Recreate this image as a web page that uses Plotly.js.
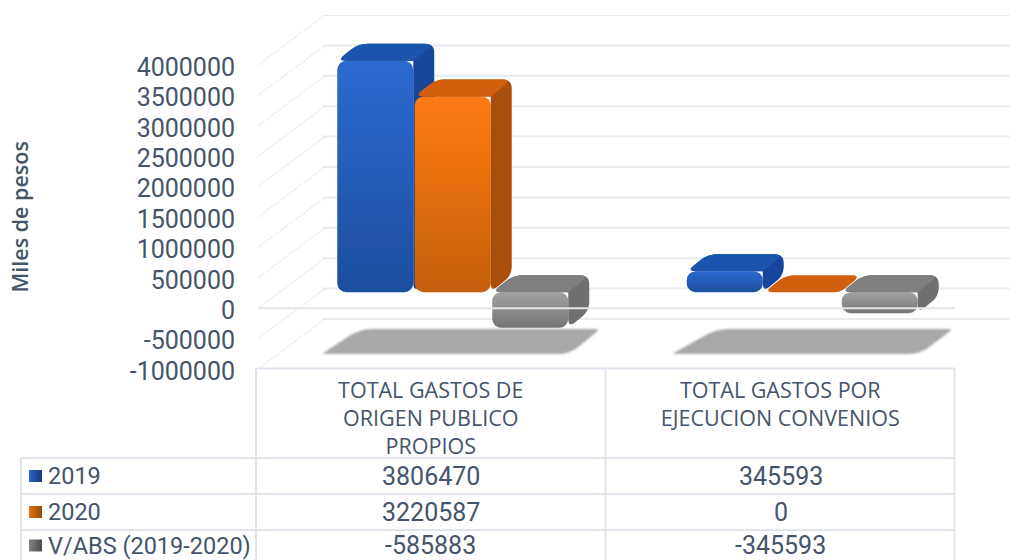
<!DOCTYPE html>
<html><head><meta charset="utf-8">
<script src="https://cdn.plot.ly/plotly-3.0.1.min.js"></script>
<style>html,body{margin:0;padding:0;background:#fff;overflow:hidden}</style>
</head><body><div id="chart" style="width:1010px;height:560px"></div>
<script>
const categories = ['TOTAL GASTOS DE<br>ORIGEN PUBLICO<br>PROPIOS', 'TOTAL GASTOS POR<br>EJECUCION CONVENIOS'];
const seriesNames = ['2019', '2020', 'V/ABS (2019-2020)'];
const values2019 = [3806470, 345593];
const values2020 = [3220587, 0];
const valuesVabs = [-585883, -345593];
const yTicks = [-1000000, -500000, 0, 500000, 1000000, 1500000, 2000000, 2500000, 3000000, 3500000, 4000000];
const allSeries = [values2019, values2020, valuesVabs];

const TXT = '#44546a', GRID = '#e8ebef', TBL = '#e0e5ed';
const W = 754, H = 354, L = 256, T = 15;
const UX = 349.5;               // px per category
const UY = 5000000 / 304;       // value per px
const xPx = p => (p - L) / UX - 0.5;
const paperX = p => (p - L) / W;
const paperY = p => (369 - p) / H;
const xRange = [-0.5, -0.5 + W / UX];
const yRange = [-1000000, -1000000 + H * UY];

const styles = [
  {front:'#2259b5', side:'#17479a', top:'#1e55ad', g:['#2b69cf','#1d4f9f'], k:['#2e65c5','#143a80']},
  {front:'#e96c10', side:'#a8500c', top:'#d0600a', g:['#ff7a12','#c4600f'], k:['#f07010','#8a4a10']},
  {front:'#8f8f90', side:'#6f6f6f', top:'#7f7f7f', g:['#a2a2a2','#757575'], k:['#858585','#4a4a4a']}
];
const FONT = 'Roboto';
const CATF = 'Open Sans';

function line(xs, ys, color, width, dash, ax) {
  return {type:'scatter', mode:'lines', x:xs, y:ys, xaxis:'x'+(ax||''), yaxis:'y'+(ax||''),
    line:{color, width, dash:dash||'solid'}, hoverinfo:'skip', showlegend:false};
}
// rounded polygon in pixel-offset space -> data coordinates
function poly(pts, color, ax) {
  const xs = [], ys = [];
  const n = pts.length;
  for (let i = 0; i < n; i++) {
    const [x, v, r] = pts[i];
    const p = pts[(i + n - 1) % n], q = pts[(i + 1) % n];
    const px0 = x * UX, py0 = v / UY;
    if (!r) { xs.push(x); ys.push(v); continue; }
    const d1 = Math.hypot(p[0]*UX-px0, p[1]/UY-py0), d2 = Math.hypot(q[0]*UX-px0, q[1]/UY-py0);
    const r1 = Math.min(r, d1/2), r2 = Math.min(r, d2/2);
    const ax0 = px0 + (p[0]*UX-px0)*r1/d1, ay0 = py0 + (p[1]/UY-py0)*r1/d1;
    const bx0 = px0 + (q[0]*UX-px0)*r2/d2, by0 = py0 + (q[1]/UY-py0)*r2/d2;
    for (let k = 0; k <= 6; k++) {
      const t = k/6, u = 1-t;
      xs.push((u*u*ax0 + 2*u*t*px0 + t*t*bx0)/UX);
      ys.push((u*u*ay0 + 2*u*t*py0 + t*t*by0)*UY);
    }
  }
  xs.push(xs[0]); ys.push(ys[0]);
  const axS = ax || '';
  return {type:'scatter', mode:'none', x:xs, y:ys, fill:'toself', fillcolor:color,
    xaxis:'x'+axS, yaxis:'y'+axS, hoverinfo:'skip', showlegend:false};
}

const traces = [];
// back wall + side wall
const backDx = 67 / UX, backDv = 50 * UY;
yTicks.forEach(v => {
  traces.push(line([xPx(L + 67), xRange[1]], [v + backDv, v + backDv], GRID, 2));
  traces.push(line([xPx(L + 2), xPx(L + 2) + backDx], [v, v + backDv], '#dedede', 1, '2px,1px'));
});
// floor shadows
const shadowOff = [[322, 360, 600, 570], [672, 717, 953, 920]];
shadowOff.forEach(s => {
  traces.push(poly([
    [xPx(s[0]), -1000000 + 15*UY, 3], [xPx(s[1]), -1000000 + 40*UY, 12],
    [xPx(s[2]), -1000000 + 40*UY, 5], [xPx(s[3]), -1000000 + 15*UY, 12]
  ], '#a8a8a8'));
});

// 3D bars: each series on its own overlaying axes so later bars cover earlier ones
const BASE = 16 * UY, BW = 76 / UX, STEP = 77.5 / UX, SHIFT = 22 / UX;
const DX = 21 / UX, DV = 17 * UY;
allSeries.forEach((vals, s) => {
  const ax = s + 2;
  const st = styles[s];
  const xc = vals.map((_, i) => i + SHIFT + (s - 1) * STEP);
  traces.push({type:'bar', name:seriesNames[s], x:xc, y:vals, base:vals.map(() => BASE), width:BW,
    xaxis:'x'+ax, yaxis:'y'+ax, marker:{color:st.front, line:{width:0}, cornerradius:9},
    hoverinfo:'y', showlegend:false});
  vals.forEach((v, i) => {
    const l = xc[i] - BW/2, r = xc[i] + BW/2;
    const top = BASE + Math.max(v, 0), bot = BASE + Math.min(v, 0);
    if (bot < top) {
      traces.push(poly([[l, top, 9], [l+DX, top+DV, 10], [r+DX, top+DV, 9], [r+DX, bot+DV, 9], [r, bot, 9], [r, top, 0]], st.side, ax));
    }
    traces.push(poly([[l, top, 9], [l+DX, top+DV, 10], [r+DX, top+DV, 10], [r, top, bot < top ? 0 : 6]], st.top, ax));
  });
});
// front plane lines over everything
traces.push(line([xPx(L + 2), 1.5], [0, 0], '#e2e5ea', 2, 'solid', 5));

const shapes = [];
const rule = (x0, y0, x1, y1) => shapes.push({type:'line', xref:'paper', yref:'paper',
  x0:paperX(x0), y0:paperY(y0), x1:paperX(x1), y1:paperY(y1), line:{color:TBL, width:2}});
rule(256, 368.5, 955, 368.5);
rule(21, 458, 955, 458); rule(21, 494, 955, 494); rule(21, 530, 955, 530);
rule(21, 458, 21, 560); rule(256, 368, 256, 560); rule(605.5, 368, 605.5, 560); rule(954.5, 368, 954.5, 560);

const annotations = [];
const rowY = [476, 512, 545.5];
const colPx = [430.5, 780.5];
seriesNames.forEach((nm, s) => {
  const y = rowY[s];
  shapes.push({type:'rect', xref:'paper', yref:'paper', x0:paperX(29), x1:paperX(42), y0:paperY(y-6), y1:paperY(y+6),
    fillcolor:styles[s].front, line:{width:0}});
  annotations.push({xref:'paper', yref:'paper', x:paperX(46), y:paperY(y), text:nm, showarrow:false,
    xanchor:'left', yanchor:'middle', font:{family:FONT, size:23.5, color:TXT}});
  allSeries[s].forEach((v, i) => annotations.push({xref:'paper', yref:'paper', x:paperX(colPx[i]), y:paperY(y),
    text:String(v), showarrow:false, xanchor:'center', yanchor:'middle', font:{family:FONT, size:25, color:TXT}}));
});
annotations.push({xref:'paper', yref:'paper', x:paperX(19), y:paperY(216.5), text:'Miles de pesos', showarrow:false,
  textangle:-90, xanchor:'center', yanchor:'middle', font:{family:'Open Sans', size:21.5, weight:600, color:TXT}});

const layout = {
  width:1010, height:560, margin:{l:L, r:0, t:T, b:191, pad:0},
  paper_bgcolor:'#fff', plot_bgcolor:'rgba(0,0,0,0)', showlegend:false, barmode:'overlay',
  xaxis:{range:xRange, tickmode:'array', tickvals:[0, 1], ticktext:categories, showgrid:false, zeroline:false,
    showline:false, ticks:'outside', ticklen:2, tickcolor:'rgba(0,0,0,0)', tickangle:0,
    tickfont:{family:CATF, size:21.5, color:TXT}, fixedrange:true},
  yaxis:{range:yRange, tickmode:'array', tickvals:yTicks, ticktext:yTicks.map(String), showgrid:false, zeroline:false,
    showline:false, ticks:'outside', ticklen:15, tickcolor:'rgba(0,0,0,0)', ticklabelshift:2,
    tickfont:{family:FONT, size:25, color:TXT}, fixedrange:true},
  shapes, annotations
};
[2, 3, 4, 5].forEach(k => {
  layout['xaxis'+k] = {visible:false, range:xRange, fixedrange:true, overlaying:'x', anchor:'y'};
  layout['yaxis'+k] = {visible:false, range:yRange, fixedrange:true, overlaying:'y', anchor:'x'};
});

Plotly.newPlot('chart', traces, layout, {displayModeBar:false, staticPlot:true}).then(gd => {
  const svg = gd.querySelector('svg.main-svg');
  const NS = 'http://www.w3.org/2000/svg';
  const defs = svg.querySelector('defs') || svg.insertBefore(document.createElementNS(NS, 'defs'), svg.firstChild);
  const toRgb = h => 'rgb(' + [1,3,5].map(i => parseInt(h.substr(i,2),16)).join(', ') + ')';
  const grad = (id, stops, horizontal) => {
    const g = document.createElementNS(NS, 'linearGradient');
    g.setAttribute('id', id); g.setAttribute('x1','0'); g.setAttribute('y1','0');
    g.setAttribute('x2', horizontal ? '1' : '0'); g.setAttribute('y2', horizontal ? '0' : '1');
    stops.forEach((c, k) => { const s = document.createElementNS(NS,'stop'); s.setAttribute('offset', k); s.setAttribute('stop-color', c); g.appendChild(s); });
    defs.appendChild(g);
  };
  const f = document.createElementNS(NS, 'filter');
  f.setAttribute('id', 'soft'); f.setAttribute('x','-10%'); f.setAttribute('y','-20%'); f.setAttribute('width','120%'); f.setAttribute('height','140%');
  const b = document.createElementNS(NS, 'feGaussianBlur'); b.setAttribute('stdDeviation', '1.2'); f.appendChild(b);
  defs.appendChild(f);
  const f2 = f.cloneNode(true); f2.setAttribute('id', 'soft2'); f2.firstChild.setAttribute('stdDeviation', '0.6'); defs.appendChild(f2);
  styles.forEach((st, i) => {
    grad('barg' + i, st.g, false);
    grad('keyg' + i, st.k, true);
    gd.querySelectorAll('.barlayer .point path').forEach(p => {
      if (p.style.fill === toRgb(st.front)) { p.style.fill = 'url(#barg' + i + ')'; p.setAttribute('filter', 'url(#soft2)'); }
    });
    gd.querySelectorAll('.shapelayer path').forEach(p => {
      if (p.style.fill === toRgb(st.front)) p.style.fill = 'url(#keyg' + i + ')';
    });
  });
  gd.querySelectorAll('.js-fill').forEach(p => {
    p.setAttribute('filter', p.style.fill === toRgb('#a8a8a8') ? 'url(#soft)' : 'url(#soft2)');
  });
});
</script></body></html>
